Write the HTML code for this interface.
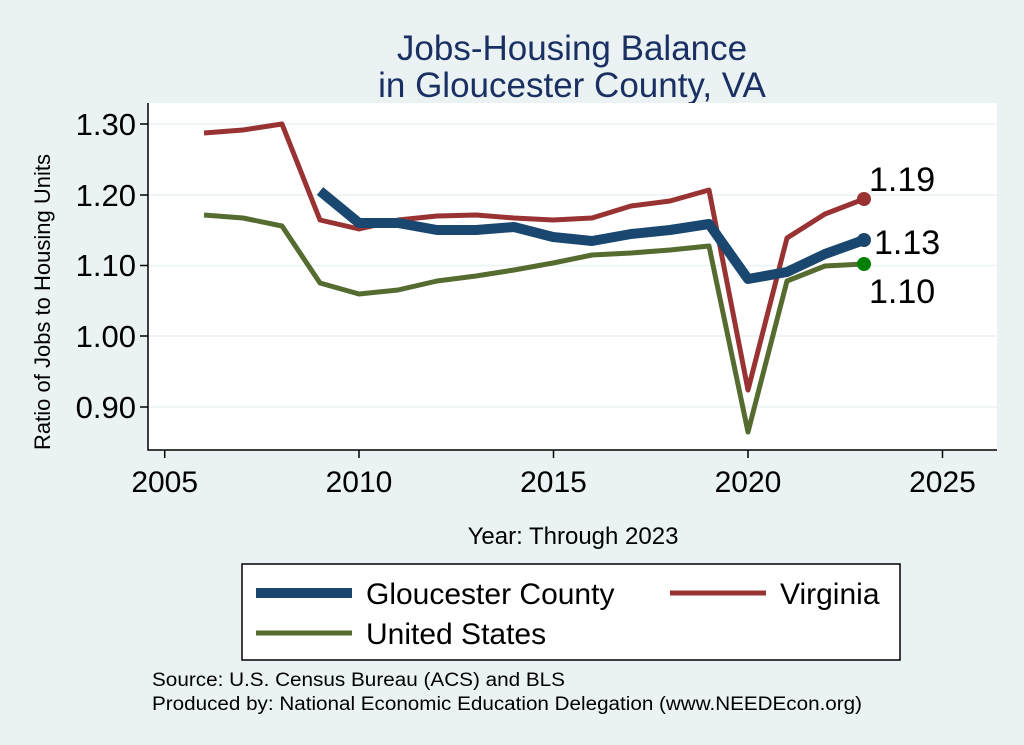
<!DOCTYPE html><html><head><style>body{margin:0;background:#eaf2f3}svg{display:block}text{font-family:"Liberation Sans",sans-serif}</style></head><body>
<svg width="1024" height="745" viewBox="0 0 1024 745">
<rect width="1024" height="745" fill="#eaf2f3"/>
<text x="572" y="60" font-size="35" fill="#1a3062" text-anchor="middle">Jobs-Housing Balance</text>
<text x="572" y="97" font-size="35" fill="#1a3062" text-anchor="middle">in Gloucester County, VA</text>
<rect x="148" y="103" width="849" height="347" fill="#fff"/>
<g stroke="#eaf2f3" stroke-width="1.5">
<line x1="148" x2="997" y1="124" y2="124"/><line x1="148" x2="997" y1="195" y2="195"/><line x1="148" x2="997" y1="265.5" y2="265.5"/><line x1="148" x2="997" y1="336" y2="336"/><line x1="148" x2="997" y1="407" y2="407"/></g>
<g stroke="#000" stroke-width="1.5" fill="none"><polyline points="148,103 148,450 997,450"/>
<line x1="140" x2="148" y1="124" y2="124"/><line x1="140" x2="148" y1="195" y2="195"/><line x1="140" x2="148" y1="265.5" y2="265.5"/><line x1="140" x2="148" y1="336" y2="336"/><line x1="140" x2="148" y1="407" y2="407"/>
<line x1="164.7" x2="164.7" y1="450" y2="458"/><line x1="359" x2="359" y1="450" y2="458"/><line x1="553.5" x2="553.5" y1="450" y2="458"/><line x1="748" x2="748" y1="450" y2="458"/><line x1="942.5" x2="942.5" y1="450" y2="458"/></g>
<g font-size="31" text-anchor="end"><text x="136" y="135">1.30</text><text x="136" y="206">1.20</text><text x="136" y="276">1.10</text><text x="136" y="347">1.00</text><text x="136" y="418">0.90</text></g>
<g font-size="30" text-anchor="middle"><text x="164.7" y="492">2005</text><text x="359" y="492">2010</text><text x="553.5" y="492">2015</text><text x="748" y="492">2020</text><text x="942.5" y="492">2025</text></g>
<text x="50" y="302" font-size="22" text-anchor="middle" transform="rotate(-90 50 302)">Ratio of Jobs to Housing Units</text>
<text x="573" y="544" font-size="24" text-anchor="middle">Year: Through 2023</text>
<g fill="none" stroke-linejoin="round">
<polyline stroke="#556b2f" stroke-width="5" points="204,215 243,218 282,226 320,283 359,294 398,290 437,281 476,276 514,270 553,263 592,255 631,253 670,250 709,246 748,432 787,281 825,266 864,264"/>
<polyline stroke="#993333" stroke-width="5" points="204,133 243,130 282,124 320,220 359,229 398,220 437,216 476,215 514,218 553,220 592,218 631,206 670,201 709,190 748,390 787,238 825,214 864,199"/>
<polyline stroke="#1a476f" stroke-width="10" points="320,191 359,223 398,223 437,230 476,230 514,227 553,237 592,241 631,234 670,230 709,224 748,279 787,272 825,254 864,240"/>
</g>
<circle cx="864" cy="199" r="7" fill="#993333"/><circle cx="864" cy="240" r="7" fill="#1a476f"/><circle cx="864" cy="264" r="7" fill="#008000"/>
<g font-size="34"><text x="869" y="191">1.19</text><text x="874" y="254">1.13</text><text x="869" y="303">1.10</text></g>
<rect x="242" y="564" width="658" height="96" fill="#fff" stroke="#000" stroke-width="1.5"/>
<line x1="256" x2="352" y1="593" y2="593" stroke="#1a476f" stroke-width="10"/>
<line x1="670" x2="766" y1="593" y2="593" stroke="#993333" stroke-width="5"/>
<line x1="256" x2="352" y1="633" y2="633" stroke="#556b2f" stroke-width="5"/>
<g font-size="30"><text x="366" y="604">Gloucester County</text><text x="780" y="604">Virginia</text><text x="366" y="644">United States</text></g>
<g font-size="19"><text x="152" y="686" textLength="413" lengthAdjust="spacingAndGlyphs">Source: U.S. Census Bureau (ACS) and BLS</text><text x="152" y="710" textLength="710" lengthAdjust="spacingAndGlyphs">Produced by: National Economic Education Delegation (www.NEEDEcon.org)</text></g>
</svg></body></html>
